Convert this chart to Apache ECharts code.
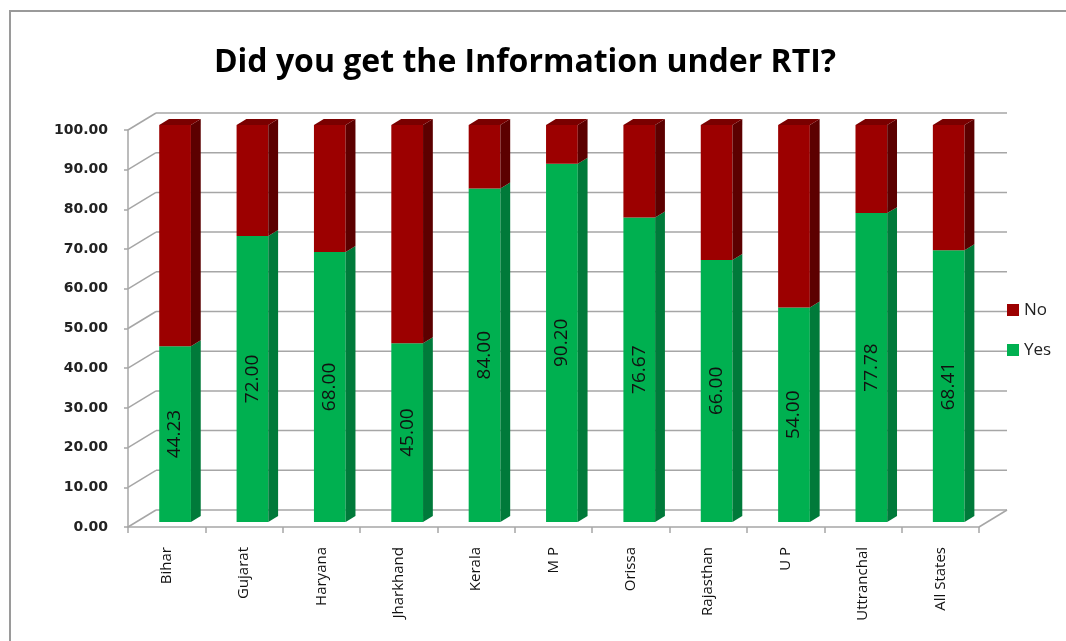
<!DOCTYPE html>
<html>
<head>
<meta charset="utf-8">
<script src="https://cdn.jsdelivr.net/npm/echarts@6/dist/echarts.min.js"></script>
<style>html,body{margin:0;padding:0;background:#fff;}#c{width:1066px;height:641px;}</style>
</head>
<body>
<div id="c"></div>
<script>
var categories = ['Bihar','Gujarat','Haryana','Jharkhand','Kerala','M P','Orissa','Rajasthan','U P','Uttranchal','All States'];
var yesValues = [44.23, 72.00, 68.00, 45.00, 84.00, 90.20, 76.67, 66.00, 54.00, 77.78, 68.41];
var noValues  = [55.77, 28.00, 32.00, 55.00, 16.00, 9.80, 23.33, 34.00, 46.00, 22.22, 31.59];
var yTicks = [0, 10, 20, 30, 40, 50, 60, 70, 80, 90, 100];

var DX = 28, DY = 17;          // full depth of floor/back wall
var FRONT = 0.3, BACK = 0.65;  // bar depth positions
var GRID_COLOR = '#a6a6a6';

var colors = {
  Yes: {front: '#00B050', side: '#007A3A', top: '#1FC468'},
  No:  {front: '#9C0000', side: '#5C0000', top: '#7A0000'}
};

function segRender(name, showLabel) {
  var c = colors[name];
  return function (params, api) {
    var i = api.value(0);
    var pb = api.coord([i, api.value(1)]);
    var pt = api.coord([i, api.value(2)]);
    var bw = api.size([1, 0])[0];
    var hw = bw * 0.205;
    var ox = FRONT * DX, oy = FRONT * DY;
    var dx = (BACK - FRONT) * DX, dy = (BACK - FRONT) * DY;
    var cx = pb[0] + ox;
    var yb = pb[1] - oy, yt = pt[1] - oy;
    var xl = cx - hw, xr = cx + hw;
    var children = [
      {type: 'rect', shape: {x: xl, y: yt, width: xr - xl, height: yb - yt}, style: {fill: c.front}},
      {type: 'polygon', shape: {points: [[xr, yt], [xr + dx, yt - dy], [xr + dx, yb - dy], [xr, yb]]}, style: {fill: c.side}}
    ];
    if (name === 'No') {
      children.push({type: 'polygon', shape: {points: [[xl, yt], [xl + dx, yt - dy], [xr + dx, yt - dy], [xr, yt]]}, style: {fill: c.top}});
    }
    if (showLabel) {
      children.push({
        type: 'text', x: cx, y: (yt + yb) / 2, rotation: Math.PI / 2,
        style: {text: api.value(2).toFixed(2), fill: '#111', font: '19px "Open Sans", sans-serif', align: 'center', verticalAlign: 'middle'}
      });
    }
    return {type: 'group', children: children};
  };
}

var yesData = categories.map(function (c, i) { return [i, 0, yesValues[i]]; });
var noData = categories.map(function (c, i) { return [i, yesValues[i], yesValues[i] + noValues[i]]; });
var frameData = yTicks.map(function (v) { return [0, v]; });

var chart = echarts.init(document.getElementById('c'));
chart.setOption({
  animation: false,
  backgroundColor: '#fff',
  title: {
    text: 'Did you get the Information under RTI?',
    left: 520, top: 42, textAlign: 'center',
    textStyle: {fontFamily: '"Open Sans", sans-serif', fontWeight: 'bold', fontSize: 32, color: '#000'}
  },
  graphic: [{
    type: 'rect', z: -10, silent: true,
    shape: {x: 10, y: 11, width: 1200, height: 800},
    style: {fill: 'none', stroke: '#9a9a9a', lineWidth: 2}
  }],
  legend: {
    data: ['No', 'Yes'], orient: 'vertical', left: 1002, top: 296,
    icon: 'rect', itemWidth: 12, itemHeight: 12, itemGap: 22,
    textStyle: {fontFamily: '"Open Sans", sans-serif', fontSize: 17, color: '#222', lineHeight: 18}
  },
  grid: {left: 128, right: 87, top: 130, bottom: 114},
  xAxis: {
    type: 'category', data: categories,
    axisLine: {lineStyle: {color: GRID_COLOR, width: 1.5}},
    axisTick: {show: true, length: 6, alignWithLabel: false, lineStyle: {color: GRID_COLOR, width: 1.5}},
    axisLabel: {rotate: 90, margin: 20, interval: 0, fontFamily: '"Open Sans", sans-serif', fontSize: 15, color: '#111'}
  },
  yAxis: {
    type: 'value', min: 0, max: 100, interval: 10,
    axisLine: {show: true, lineStyle: {color: GRID_COLOR, width: 1.5}},
    axisTick: {show: true, length: 4, lineStyle: {color: GRID_COLOR, width: 1.5}},
    splitLine: {show: false},
    axisLabel: {margin: 20, fontFamily: '"DejaVu Sans", sans-serif', fontWeight: 'bold', fontSize: 14, color: '#222',
      formatter: function (v) { return v.toFixed(2); }}
  },
  series: [
    {
      type: 'custom', name: 'frame', silent: true, z: 1, data: frameData,
      encode: {x: 0, y: 1},
      renderItem: function (params, api) {
        var v = api.value(1);
        var p = api.coord([0, v]);
        var bw = api.size([1, 0])[0];
        var L = p[0] - bw / 2, R = L + bw * categories.length, y = p[1];
        var st = {stroke: GRID_COLOR, lineWidth: 1.5};
        var ch = [
          {type: 'line', shape: {x1: L + DX, y1: y - DY, x2: R + DX, y2: y - DY}, style: st},
          {type: 'line', shape: {x1: L, y1: y, x2: L + DX, y2: y - DY}, style: st}
        ];
        if (v === 0) {
          ch.push({type: 'line', shape: {x1: R, y1: y, x2: R + DX, y2: y - DY}, style: st});
        }
        return {type: 'group', children: ch};
      }
    },
    {type: 'custom', name: 'Yes', z: 3, data: yesData, encode: {x: 0, y: [1, 2]}, itemStyle: {color: colors.Yes.front}, renderItem: segRender('Yes', true)},
    {type: 'custom', name: 'No', z: 4, data: noData, encode: {x: 0, y: [1, 2]}, itemStyle: {color: colors.No.front}, renderItem: segRender('No', false)}
  ]
});
</script>
</body>
</html>
